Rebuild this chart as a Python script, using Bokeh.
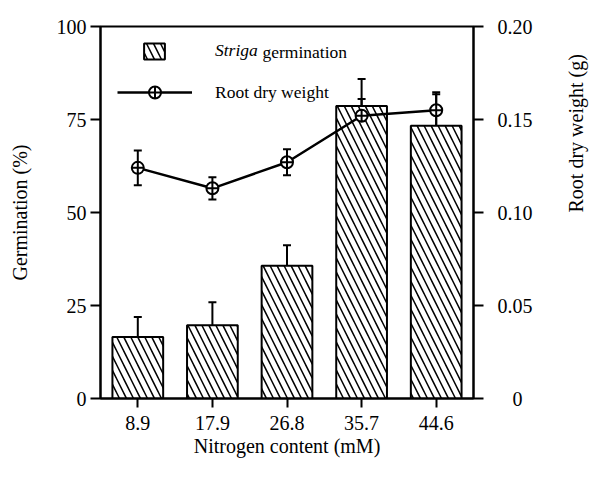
import math
from bokeh.plotting import figure
from bokeh.models import (ColumnDataSource, FactorRange, Range1d, LinearAxis, FixedTicker,
                          NumeralTickFormatter, Whisker, TeeHead, Legend, LegendItem, Label)
from bokeh.embed import file_html
from bokeh.resources import INLINE

nitrogen = ["8.9", "17.9", "26.8", "35.7", "44.6"]
germination = [16.5, 19.7, 35.7, 78.6, 73.3]
germination_err = [5.4, 6.2, 5.5, 7.3, 9.0]
root_weight = [0.124, 0.113, 0.127, 0.152, 0.155]
root_weight_err = [0.0094, 0.006, 0.007, 0.009, 0.0086]
left_ticks = [0, 25, 50, 75, 100]
right_ticks = [0, 0.05, 0.10, 0.15, 0.20]

FONT = "'Liberation Serif', 'Times New Roman', serif"

src = ColumnDataSource(dict(
    x=nitrogen,
    g=germination,
    g_lo=[v - e for v, e in zip(germination, germination_err)],
    g_hi=[v + e for v, e in zip(germination, germination_err)],
    r=root_weight,
    r_lo=[v - e for v, e in zip(root_weight, root_weight_err)],
    r_hi=[v + e for v, e in zip(root_weight, root_weight_err)],
))

p = figure(x_range=FactorRange(*nitrogen, range_padding=0), y_range=Range1d(0, 100),
           frame_width=373, frame_height=372,
           min_border_left=100, min_border_right=121, min_border_top=26, min_border_bottom=63,
           output_backend="svg", toolbar_location=None)
p.extra_y_ranges = {"root": Range1d(0, 0.2)}

p.grid.visible = False
p.outline_line_color = "black"
p.outline_line_width = 2
p.background_fill_color = "white"
p.border_fill_color = "white"


def style_axis(ax):
    ax.axis_line_width = 2
    ax.axis_line_color = "black"
    ax.major_tick_line_width = 2
    ax.major_tick_line_color = "black"
    ax.major_tick_out = 10
    ax.major_tick_in = 0
    ax.minor_tick_line_color = None
    ax.major_label_text_font = FONT
    ax.major_label_text_font_size = "20px"
    ax.major_label_text_color = "black"
    ax.axis_label_text_font = FONT
    ax.axis_label_text_font_size = "20px"
    ax.axis_label_text_font_style = "normal"
    ax.axis_label_text_color = "black"


xa = p.xaxis[0]
style_axis(xa)
xa.major_tick_out = 9
xa.major_label_standoff = 8
xa.axis_label = "Nitrogen content (mM)"
xa.axis_label_standoff = 2

ya = p.yaxis[0]
style_axis(ya)
ya.ticker = FixedTicker(ticks=left_ticks)
ya.major_label_standoff = 4
ya.axis_label = "Germination (%)"
ya.axis_label_standoff = 23

ra = LinearAxis(y_range_name="root", ticker=FixedTicker(ticks=right_ticks),
                formatter=NumeralTickFormatter(format="0.00"))
style_axis(ra)
ra.major_label_overrides = {0: "\u00a0\u00a0\u00a00"}
ra.major_label_standoff = 14
ra.axis_label = "Root dry weight (g)"
ra.axis_label_standoff = 40
ra.axis_label_orientation = math.pi / 2
p.add_layout(ra, "right")

bars = p.vbar(x="x", top="g", width=0.68, source=src, fill_color="white",
              line_color="black", line_width=2, hatch_pattern="\\", hatch_scale=14,
              hatch_weight=1.5, hatch_color="black")

p.add_layout(Whisker(base="x", lower="g_lo", upper="g_hi", source=src,
                     line_width=2, line_color="black",
                     upper_head=TeeHead(size=8, line_width=2),
                     lower_head=TeeHead(size=8, line_width=2)))

line = p.line(x="x", y="r", source=src, y_range_name="root", line_color="black", line_width=2.5)
p.add_layout(Whisker(base="x", lower="r_lo", upper="r_hi", source=src, y_range_name="root",
                     line_width=2, line_color="black",
                     upper_head=TeeHead(size=8, line_width=2),
                     lower_head=TeeHead(size=8, line_width=2)))
pts = p.scatter(x="x", y="r", source=src, y_range_name="root", marker="circle_cross",
                size=12, fill_color="white", line_color="black", line_width=2)


def style_legend(lg):
    lg.border_line_alpha = 0
    lg.background_fill_alpha = 0
    lg.padding = 0
    lg.margin = 0
    lg.spacing = 0
    lg.label_text_font = FONT
    lg.label_text_font_size = "17.5px"
    lg.label_text_color = "black"


leg1 = Legend(items=[LegendItem(label="Striga", renderers=[bars])], location=(41, 337))
style_legend(leg1)
leg1.glyph_width = 26
leg1.glyph_height = 20
leg1.label_height = 20
leg1.label_standoff = 48
leg1.label_text_font_style = "italic"
p.add_layout(leg1, "center")

leg2 = Legend(items=[LegendItem(label="Root dry weight", renderers=[line, pts])], location=(17, 291))
style_legend(leg2)
leg2.glyph_width = 75
leg2.glyph_height = 30
leg2.label_standoff = 23
p.add_layout(leg2, "center")

p.add_layout(Label(x=162, y=347, x_units="screen", y_units="screen", text="germination",
                   text_font=FONT, text_font_size="17.5px", text_color="black",
                   text_baseline="middle"))

open("out.html", "w").write(file_html(p, INLINE))
